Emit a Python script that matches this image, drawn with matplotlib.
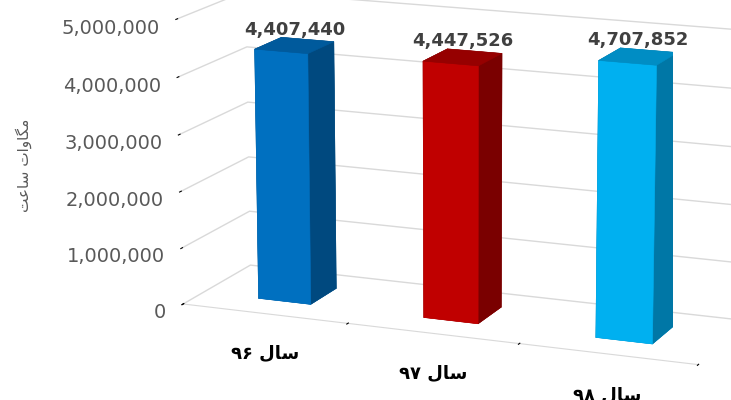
import matplotlib
matplotlib.use('Agg')
import matplotlib.pyplot as plt
import numpy as np
from mpl_toolkits.mplot3d import Axes3D  # noqa

categories = ['سال ۹۶', 'سال ۹۷', 'سال ۹۸']
values = [4407440, 4447526, 4707852]
z_ticks = [0, 1000000, 2000000, 3000000, 4000000, 5000000]
y_title = 'مگاوات ساعت'
front_colors = ['#0070C0', '#C00000', '#00B0F0']
side_colors = ['#00497F', '#7A0000', '#0077A6']
top_colors = ['#005A9C', '#960000', '#008DC4']

# --- minimal Arabic/Persian shaping + visual ordering ---
FORMS = {
    'س': ('\uFEB1', '\uFEB2', '\uFEB3', '\uFEB4'),
    'ا': ('\uFE8D', '\uFE8E', None, None),
    'ل': ('\uFEDD', '\uFEDE', '\uFEDF', '\uFEE0'),
    'م': ('\uFEE1', '\uFEE2', '\uFEE3', '\uFEE4'),
    'گ': ('\uFB92', '\uFB93', '\uFB94', '\uFB95'),
    'و': ('\uFEED', '\uFEEE', None, None),
    'ت': ('\uFE95', '\uFE96', '\uFE97', '\uFE98'),
    'ع': ('\uFEC9', '\uFECA', '\uFECB', '\uFECC'),
}


def dual(c):
    return c in FORMS and FORMS[c][2] is not None


def shape(text):
    out = []
    for i, c in enumerate(text):
        if c not in FORMS:
            out.append(c)
            continue
        prev = text[i - 1] if i > 0 else ''
        nxt = text[i + 1] if i + 1 < len(text) else ''
        cp = dual(prev)
        cn = dual(c) and nxt in FORMS
        f = FORMS[c]
        if cp and cn:
            out.append(f[3])
        elif cp:
            out.append(f[1])
        elif cn:
            out.append(f[2])
        else:
            out.append(f[0])
    s = ''.join(out)[::-1]
    res, run = [], []
    for ch in s:
        if ch.isdigit():
            run.append(ch)
        else:
            if run:
                res.extend(run[::-1]); run = []
            res.append(ch)
    if run:
        res.extend(run[::-1])
    return ''.join(res)


fig = plt.figure(figsize=(7.31, 4.0), dpi=100)
ax = fig.add_axes([0.085, 0.02, 1.08, 1.08], projection='3d')
ax.set_proj_type('persp', focal_length=1.4)
ax.view_init(elev=14, azim=-68)
ax.set_box_aspect((4, 1.15, 2.15), zoom=1.45)

n = len(values)
bw, bd = 0.32, 0.4
xs = np.arange(n) + 0.5 - bw / 2
ys = np.full(n, 0.5 - bd / 2)
zs = np.zeros(n)
facecolors = []
for i in range(n):
    facecolors += [top_colors[i], top_colors[i], front_colors[i],
                   side_colors[i], side_colors[i], side_colors[i]]
ax.bar3d(xs, ys, zs, bw, bd, values, color=facecolors, shade=False,
         edgecolor=facecolors, linewidth=0.4)

ax.set_xlim(0, n)
ax.set_ylim(0, 1)
ax.set_zlim(0, 5000000)

ax.set_xticks(np.arange(n + 1))
ax.set_xticklabels([''] * (n + 1))
ax.set_yticks([])
ax.set_zticks(z_ticks)
ax.set_zticklabels([f'{t:,}' for t in z_ticks], color='#595959', fontsize=14)
ax.zaxis.set_ticks_position('lower')
ax.tick_params(axis='z', pad=-3)
for t in ax.get_zticklabels():
    t.set_horizontalalignment('right')

for axis in (ax.xaxis, ax.yaxis, ax.zaxis):
    axis.pane.set_facecolor((1, 1, 1, 0))
    axis.pane.set_edgecolor((1, 1, 1, 0))
    axis._axinfo['grid']['color'] = (1, 1, 1, 0)
ax.zaxis._axinfo['grid']['color'] = '#D9D9D9'
ax.zaxis._axinfo['grid']['linewidth'] = 1.0
ax.xaxis.line.set_color('#D9D9D9')
ax.yaxis.line.set_color((1, 1, 1, 0))
ax.zaxis.line.set_color((1, 1, 1, 0))
ax.xaxis._axinfo['tick']['color'] = '#D9D9D9'
ax.zaxis._axinfo['tick']['color'] = (1, 1, 1, 0)
ax.yaxis._axinfo['tick']['color'] = (1, 1, 1, 0)

for i, v in enumerate(values):
    ax.text(i + 0.5, 0.5, v + 120000, f'{v:,}', ha='center', va='bottom',
            fontsize=13, fontweight='bold', color='#404040')
    ax.text(i + 0.5, 0.0, -700000, shape(categories[i]), ha='center',
            va='center', fontsize=13, fontweight='bold', color='#000000')

fig.text(0.033, 0.5875, shape(y_title), rotation=90, ha='center', va='center',
         fontsize=11, color='#595959')

fig.savefig('out.png', dpi=100)
